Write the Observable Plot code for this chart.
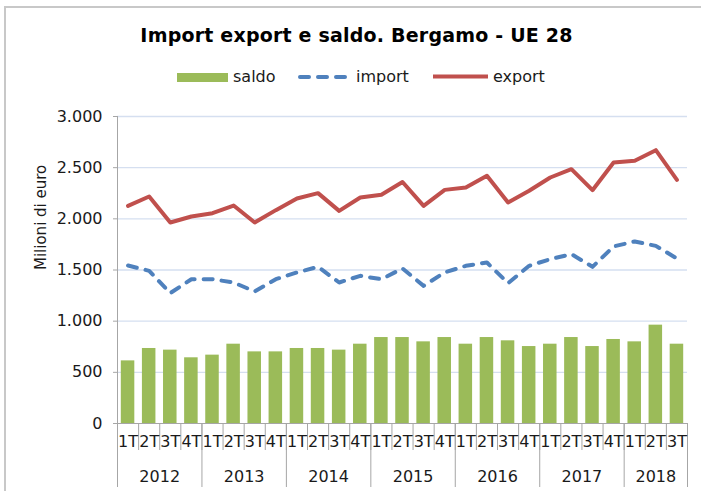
<!DOCTYPE html>
<html>
<head>
<meta charset="utf-8">
<script src="https://cdn.jsdelivr.net/npm/d3@7"></script>
<script src="https://cdn.jsdelivr.net/npm/@observablehq/plot@0.6"></script>
<style>
  html, body { margin: 0; padding: 0; background: #fff; }
  #wrap { position: relative; width: 701px; height: 491px; overflow: hidden; font-family: "DejaVu Sans", Verdana, sans-serif; }
  #frame { position: absolute; left: 4px; top: 6px; width: 720px; height: 520px; border: 2px solid #c8c8c8; box-sizing: border-box; }
  #title { position: absolute; left: 0; top: 26px; width: 713px; text-align: center; font-size: 19px; font-weight: bold; line-height: 19px; color: #000; letter-spacing: 0.2px; }
  #chart, #legend { position: absolute; left: 0; top: 0; }
</style>
</head>
<body>
<div id="wrap">
  <div id="frame"></div>
  <div id="chart"></div>
  <svg id="legend" width="701" height="100"></svg>
  <div id="title"></div>
</div>
<script>
// ---- data ----
const titleText = "Import export e saldo. Bergamo - UE 28";
const yLabel = "Milioni di euro";
const seriesNames = ["saldo", "import", "export"];
const years = ["2012", "2013", "2014", "2015", "2016", "2017", "2018"];
const quartersPerYear = [4, 4, 4, 4, 4, 4, 3];
const quarterLabels = [
  "1T","2T","3T","4T", "1T","2T","3T","4T", "1T","2T","3T","4T",
  "1T","2T","3T","4T", "1T","2T","3T","4T", "1T","2T","3T","4T",
  "1T","2T","3T"
];
const saldo = [612, 733, 717, 642, 668, 775, 700, 700, 733, 733, 717, 775, 840, 840,
               798, 840, 775, 840, 808, 752, 775, 840, 752, 821, 798, 961, 775];
const importVals = [1544, 1492, 1274, 1410, 1410, 1378, 1290, 1410, 1476, 1531, 1378, 1443, 1410, 1515,
                    1345, 1476, 1541, 1573, 1371, 1541, 1606, 1655, 1531, 1730, 1779, 1736, 1612];
const exportVals = [2127, 2218, 1964, 2023, 2055, 2130, 1964, 2085, 2199, 2251, 2078, 2208, 2235, 2360,
                    2127, 2283, 2306, 2420, 2160, 2274, 2404, 2485, 2280, 2550, 2567, 2671, 2381];
const yTicks = [0, 500, 1000, 1500, 2000, 2500, 3000];

// ---- derived ----
const colors = { saldo: "#9bbb59", import: "#4f81bd", export: "#c0504d" };
const rows = quarterLabels.map((q, i) => ({ i, q, saldo: saldo[i], imp: importVals[i], exp: exportVals[i] }));
const n = rows.length;
const yearBounds = [0];
quartersPerYear.forEach(c => yearBounds.push(yearBounds[yearBounds.length - 1] + c));
const yearCenters = years.map((y, k) => (yearBounds[k] + yearBounds[k + 1]) / 2);
const centers = rows.map(d => d.i + 0.5);
const itFmt = d3.formatLocale({ decimal: ",", thousands: ".", grouping: [3], currency: ["", "€"] }).format(",");
const axisColor = "#a6a6a6";

const chart = Plot.plot({
  width: 701,
  height: 491,
  marginLeft: 117,
  marginRight: 14,
  marginTop: 116,
  marginBottom: 68,
  x: { type: "linear", domain: [0, n] },
  y: { domain: [0, 3000] },
  style: { fontFamily: "'DejaVu Sans', Verdana, sans-serif", fontSize: "16px", color: "#1a1a1a", background: "transparent" },
  marks: [
    Plot.gridY(yTicks.filter(d => d > 0), { stroke: "#d5dff0", strokeOpacity: 1, strokeWidth: 1.4 }),
    Plot.rect(rows, { x1: "i", x2: d => d.i + 1, y1: 0, y2: "saldo", fill: colors.saldo, insetLeft: 3.8, insetRight: 3.8 }),
    Plot.line(rows, { x: d => d.i + 0.5, y: "imp", stroke: colors.import, strokeWidth: 4, strokeDasharray: "9,9", strokeLinecap: "round", strokeLinejoin: "round" }),
    Plot.line(rows, { x: d => d.i + 0.5, y: "exp", stroke: colors.export, strokeWidth: 4, strokeLinejoin: "round" }),
    Plot.ruleX([0], { stroke: axisColor }),
    Plot.ruleY([0], { stroke: axisColor }),
    Plot.axisY(yTicks, { tickSize: 4, tickPadding: 11, tickFormat: itFmt, fontSize: 16, stroke: axisColor, label: null }),
    Plot.axisX(d3.range(n + 1), { tickSize: 27, tickFormat: () => "", stroke: axisColor, label: null }),
    Plot.axisX(yearBounds, { tickSize: 64, tickFormat: () => "", stroke: axisColor, label: null }),
    Plot.axisX(centers, { tickSize: 0, tickPadding: 12, tickFormat: d => quarterLabels[Math.floor(d)], fontSize: 16, label: null }),
    Plot.axisX(yearCenters, { tickSize: 0, tickPadding: 47, tickFormat: d => years[yearCenters.indexOf(d)], fontSize: 16, label: null }),
    Plot.text([yLabel], { frameAnchor: "left", dx: -76, rotate: -90, fontSize: 15, fill: "#1a1a1a" })
  ]
});
document.getElementById("chart").appendChild(chart);
document.getElementById("title").textContent = titleText;

// ---- legend ----
const lg = d3.select("#legend").style("font-family", "'DejaVu Sans', Verdana, sans-serif").style("font-size", "16px");
lg.append("rect").attr("x", 177).attr("y", 73).attr("width", 51).attr("height", 9).attr("fill", colors.saldo);
lg.append("text").attr("x", 233).attr("y", 81.5).attr("fill", "#1a1a1a").text(seriesNames[0]);
lg.append("line").attr("x1", 300).attr("x2", 347).attr("y1", 77).attr("y2", 77)
  .attr("stroke", colors.import).attr("stroke-width", 4).attr("stroke-dasharray", "9,9").attr("stroke-linecap", "round");
lg.append("text").attr("x", 356).attr("y", 81.5).attr("fill", "#1a1a1a").text(seriesNames[1]);
lg.append("line").attr("x1", 433).attr("x2", 488).attr("y1", 76.5).attr("y2", 76.5)
  .attr("stroke", colors.export).attr("stroke-width", 4);
lg.append("text").attr("x", 493).attr("y", 81.5).attr("fill", "#1a1a1a").text(seriesNames[2]);
</script>
</body>
</html>
